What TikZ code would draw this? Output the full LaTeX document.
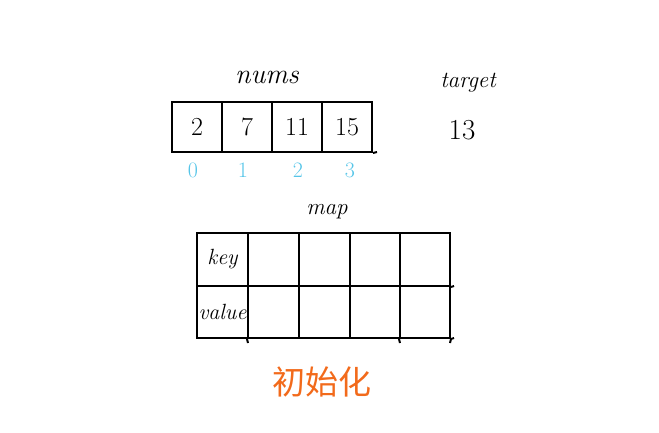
\documentclass[tikz,border=0pt]{standalone}
\usepackage{fontspec}
\newfontfamily\cjk{Noto Sans CJK SC}
\definecolor{idxcol}{HTML}{56C5E8}
\definecolor{orangecol}{HTML}{F26A1B}
\begin{document}
\begin{tikzpicture}[x=1pt,y=-1pt,
  cell/.style={draw, line width=2pt, minimum width=50pt, minimum height=50pt, inner sep=0pt, font=\fontsize{26}{30}\selectfont},
  mcell/.style={draw, line width=2pt, minimum width=51pt, minimum height=53pt, inner sep=0pt, font=\fontsize{22}{26}\selectfont\itshape},
  narrow/.style={minimum width=50pt},
  low/.style={minimum height=52pt},
  label/.style={font=\fontsize{28}{32}\selectfont\itshape},
  idx/.style={text=idxcol, font=\fontsize{22}{26}\selectfont},
  rule/.style={line width=2pt}
]
\useasboundingbox (0,0) rectangle (659,432);
% nums array
\node[label] (nums) at (267,77) {nums};
\node[cell] (n0) at (197,127) {2};
\node[cell] (n1) at (247,127) {7};
\node[cell] (n2) at (297,127) {11};
\node[cell] (n3) at (347,127) {15};
\coordinate (nend) at (377,152);
\draw[rule] (n3.south east) -- (nend);
% indices
\node[idx] (i0) at (193,170) {0};
\node[idx] (i1) at (243,170) {1};
\node[idx] (i2) at (298,170) {2};
\node[idx] (i3) at (350,170) {3};
% target
\node[font=\fontsize{23}{26}\selectfont\itshape] (target) at (468,83) {target};
\node[font=\fontsize{29}{32}\selectfont] (tval) at (462,130) {13};
% map
\node[font=\fontsize{23}{26}\selectfont\itshape] (map) at (327,212) {map};
\node[mcell] (k0) at (222.5,259.5) {key};
\node[mcell] (k1) at (273.5,259.5) {};
\node[mcell] (k2) at (324.5,259.5) {};
\node[mcell,narrow] (k3) at (375,259.5) {};
\node[mcell,narrow] (k4) at (425,259.5) {};
\node[mcell,low] (v0) at (222.5,312) {value};
\node[mcell,low] (v1) at (273.5,312) {};
\node[mcell,low] (v2) at (324.5,312) {};
\node[mcell,low,narrow] (v3) at (375,312) {};
\node[mcell,low,narrow] (v4) at (425,312) {};
\coordinate (ke) at (454,286);
\coordinate (ve) at (454,338);
\draw[rule] (k4.south east) -- (ke);
\draw[rule] (v4.south east) -- (ve);
\coordinate (d1) at (248,343);
\coordinate (d3) at (400,343);
\coordinate (d4) at (450,343);
\draw[rule] (v1.south west) -- (d1);
\draw[rule] (v4.south west) -- (d3);
\draw[rule] (v4.south east) -- (d4);
% caption
\node[text=orangecol, font=\cjk\fontsize{33}{36}\selectfont] (cap) at (322,382) {初始化};
\end{tikzpicture}
\end{document}
